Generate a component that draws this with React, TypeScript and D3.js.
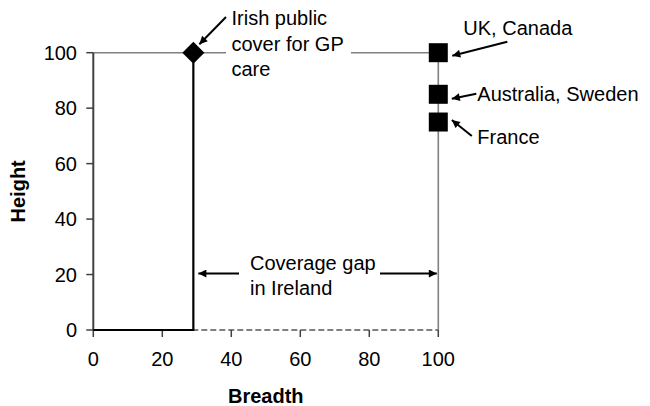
import React from "react";
import * as d3 from "d3";

const xTicks = [0, 20, 40, 60, 80, 100];
const yTicks = [0, 20, 40, 60, 80, 100];

// Ireland: breadth and height of public cover for GP care
const irishBreadth = 29;
const irishHeight = 100;

// countries with full breadth of cover
const countries = ["UK, Canada", "Australia, Sweden", "France"];
const countryBreadth = [100, 100, 100];
const countryHeight = [100, 85, 75];

const irishLabel = ["Irish public", "cover for GP", "care"];
const gapLabel = ["Coverage gap", "in Ireland"];

const width = 650;
const height = 406;
const font = "'Liberation Sans', Arial, sans-serif";

// label offsets from each country's marker (text pos, arrow tail, arrow tip)
const countryLabelPos = [
  { tx: 25, ty: -18, ax: 69, ay: -11, bx: 14, by: 3 },
  { tx: 39, ty: 7, ax: 38, ay: -0.5, bx: 13.5, by: 4.5 },
  { tx: 39, ty: 22, ax: 33.5, ay: 14, bx: 13.5, by: -2 },
];

const App: React.FC = () => {
  const x = d3.scaleLinear().domain([0, 100]).range([93.3, 438.3]);
  const y = d3.scaleLinear().domain([0, 100]).range([330, 52.7]);

  const line = d3
    .line<[number, number]>()
    .x((d) => x(d[0]))
    .y((d) => y(d[1]));

  // step line for Ireland
  const irishPath = line([
    [0, 0],
    [irishBreadth, 0],
    [irishBreadth, irishHeight],
  ]);
  // full coverage frame
  const framePath = line([
    [0, 100],
    [100, 100],
    [100, 0],
  ]);

  const square = d3.symbol(d3.symbolSquare, 19 * 19)();
  const diamond = d3.symbol(d3.symbolSquare, 15.6 * 15.6)();

  const ix = x(irishBreadth);
  const iy = y(irishHeight);
  const gapY = y(20) - 1;

  return (
    <svg
      width={width}
      height={height}
      style={{ position: "absolute", left: 0, top: 0, background: "#fff" }}
      fontFamily={font}
    >
      <defs>
        <marker
          id="arr"
          viewBox="0 0 10 10"
          refX="10"
          refY="5"
          markerWidth="9"
          markerHeight="8"
          markerUnits="userSpaceOnUse"
          orient="auto"
        >
          <path d="M0,0L10,5L0,10Z" fill="#000" />
        </marker>
      </defs>

      {/* full coverage frame */}
      <path d={framePath ?? ""} fill="none" stroke="#808080" strokeWidth={1.6} />

      {/* x axis (dashed) */}
      <line
        x1={x(0)}
        x2={x(100)}
        y1={y(0)}
        y2={y(0)}
        stroke="#808080"
        strokeWidth={2}
        strokeDasharray="6,3"
      />
      {/* y axis */}
      <line x1={x(0)} x2={x(0)} y1={y(0)} y2={y(100)} stroke="#404040" strokeWidth={2} />

      {yTicks.map((t) => (
        <g key={"y" + t}>
          <line x1={x(0) - 7} x2={x(0)} y1={y(t)} y2={y(t)} stroke="#404040" strokeWidth={1.5} />
          <text x={77} y={y(t) + 7} textAnchor="end" fontSize={20} fill="#000">
            {t}
          </text>
        </g>
      ))}
      {xTicks.map((t) => (
        <g key={"x" + t}>
          <line x1={x(t)} x2={x(t)} y1={y(0)} y2={y(0) + 7} stroke="#404040" strokeWidth={1.5} />
          <text x={x(t)} y={y(0) + 36} textAnchor="middle" fontSize={20} fill="#000">
            {t}
          </text>
        </g>
      ))}

      {/* axis titles */}
      <text
        x={(x(0) + x(100)) / 2}
        y={403}
        textAnchor="middle"
        fontSize={20}
        fontWeight="bold"
      >
        Breadth
      </text>
      <text
        transform={`translate(25,${(y(0) + y(100)) / 2}) rotate(-90)`}
        textAnchor="middle"
        fontSize={20}
        fontWeight="bold"
      >
        Height
      </text>

      {/* Ireland */}
      <path d={irishPath ?? ""} fill="none" stroke="#000" strokeWidth={2.2} />
      <path d={diamond ?? ""} transform={`translate(${ix},${iy}) rotate(45)`} fill="#000" />

      {/* label box for Ireland */}
      <rect x={226} y={0} width={125} height={85} fill="#fff" />
      {irishLabel.map((s, i) => (
        <text key={s} x={231.5} y={25 + i * 25.5} fontSize={20}>
          {s}
        </text>
      ))}
      <line
        x1={226}
        y1={17}
        x2={ix + 6}
        y2={iy - 8.5}
        stroke="#000"
        strokeWidth={2}
        markerEnd="url(#arr)"
      />

      {/* countries */}
      {countries.map((c, i) => {
        const cx = x(countryBreadth[i]);
        const cy = y(countryHeight[i]);
        const p = countryLabelPos[i];
        return (
          <g key={c}>
            <path d={square ?? ""} transform={`translate(${cx},${cy})`} fill="#000" />
            <line
              x1={cx + p.ax}
              y1={cy + p.ay}
              x2={cx + p.bx}
              y2={cy + p.by}
              stroke="#000"
              strokeWidth={2}
              markerEnd="url(#arr)"
            />
            <text x={cx + p.tx} y={cy + p.ty} fontSize={20}>
              {c}
            </text>
          </g>
        );
      })}

      {/* coverage gap */}
      {gapLabel.map((s, i) => (
        <text key={s} x={250} y={269.5 + i * 25} fontSize={20}>
          {s}
        </text>
      ))}
      <line
        x1={239}
        y1={gapY}
        x2={ix + 5}
        y2={gapY}
        stroke="#000"
        strokeWidth={2}
        markerEnd="url(#arr)"
      />
      <line
        x1={380}
        y1={gapY}
        x2={x(100) - 1.5}
        y2={gapY}
        stroke="#000"
        strokeWidth={2}
        markerEnd="url(#arr)"
      />
    </svg>
  );
};

export default App;
